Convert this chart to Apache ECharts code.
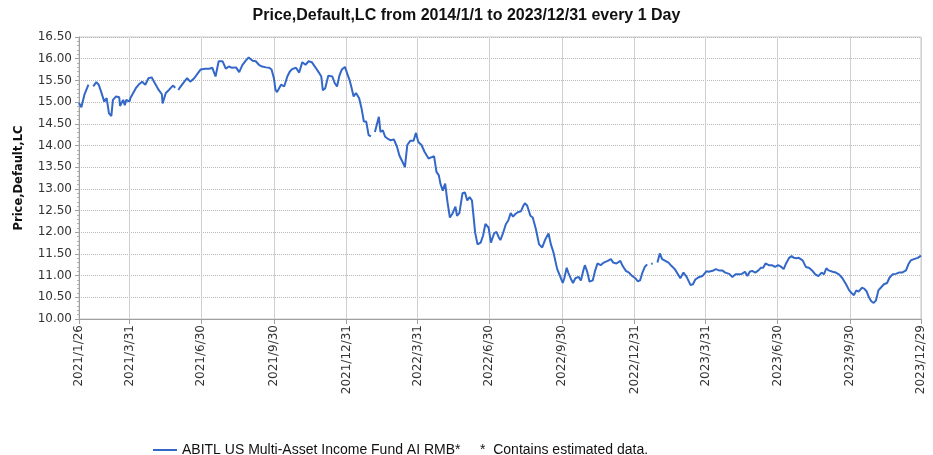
<!DOCTYPE html>
<html>
<head>
<meta charset="utf-8">
<script src="https://cdn.jsdelivr.net/npm/echarts@6/dist/echarts.min.js"></script>
<style>
html,body{margin:0;padding:0;background:#fff;}
#chart{width:933px;height:455px;}
</style>
</head>
<body>
<div id="chart"></div>
<script>
// ---- data ----
const chartTitle = 'Price,Default,LC from 2014/1/1 to 2023/12/31 every 1 Day';
const yAxisName = 'Price,Default,LC';
const seriesName = 'ABITL US Multi-Asset Income Fund AI RMB*';
const noteText = '*  Contains estimated data.';
const tickLabels = ['2021/1/26','2021/3/31','2021/6/30','2021/9/30','2021/12/31','2022/3/31','2022/6/30','2022/9/30','2022/12/31','2023/3/31','2023/6/30','2023/9/30','2023/12/29'];

const dates2021 = ['2021-01-26','2021-01-29','2021-02-02','2021-02-07','2021-02-10','2021-02-13','2021-02-17','2021-02-20','2021-02-23','2021-02-27','2021-03-02','2021-03-05','2021-03-08','2021-03-10','2021-03-14','2021-03-18','2021-03-19','2021-03-23','2021-03-25','2021-03-27','2021-03-31','2021-04-01','2021-04-08','2021-04-12','2021-04-16','2021-04-20','2021-04-24','2021-04-28','2021-05-02','2021-05-07','2021-05-11','2021-05-12','2021-05-16','2021-05-20','2021-05-25','2021-05-28','2021-05-30','2021-06-01','2021-06-03','2021-06-08','2021-06-12','2021-06-16','2021-06-21','2021-06-25','2021-06-29','2021-07-01','2021-07-05','2021-07-10','2021-07-14','2021-07-18','2021-07-22','2021-07-27','2021-07-31','2021-08-04','2021-08-08','2021-08-13','2021-08-17','2021-08-21','2021-08-25','2021-08-29','2021-09-03','2021-09-07','2021-09-11','2021-09-15','2021-09-20','2021-09-24','2021-09-27','2021-09-30','2021-10-02','2021-10-04','2021-10-09','2021-10-13','2021-10-17','2021-10-20','2021-10-23','2021-10-28','2021-11-01','2021-11-05','2021-11-09','2021-11-13','2021-11-17','2021-11-22','2021-11-26','2021-11-29','2021-12-01','2021-12-04','2021-12-08','2021-12-13','2021-12-16','2021-12-19','2021-12-22','2021-12-25','2021-12-29'];
const values2021 = [14.98,14.88,15.18,15.40,null,15.36,15.46,15.40,15.24,15.01,15.09,14.74,14.68,15.05,15.13,15.11,14.91,15.05,14.93,15.05,15.01,15.09,15.32,15.41,15.47,15.40,15.55,15.57,15.44,15.28,15.18,14.97,15.21,15.28,15.38,15.33,null,15.28,15.34,15.46,15.55,15.47,15.55,15.65,15.75,15.72,15.77,15.77,15.79,15.59,15.94,15.94,15.77,15.82,15.79,15.80,15.69,15.85,15.95,16.03,15.95,15.94,15.86,15.82,15.80,15.79,15.75,15.55,15.28,15.23,15.40,15.36,15.59,15.70,15.76,15.79,15.68,15.92,15.86,15.94,15.92,15.79,15.68,15.59,15.27,15.32,15.61,15.59,15.44,15.36,15.61,15.75,15.81];

const dates2022 = ['2022-01-01','2022-01-04','2022-01-06','2022-01-09','2022-01-12','2022-01-16','2022-01-19','2022-01-22','2022-01-25','2022-01-28','2022-01-31','2022-02-03','2022-02-05','2022-02-10','2022-02-12','2022-02-15','2022-02-18','2022-02-21','2022-02-25','2022-03-01','2022-03-05','2022-03-08','2022-03-12','2022-03-15','2022-03-18','2022-03-22','2022-03-26','2022-03-29','2022-04-01','2022-04-05','2022-04-09','2022-04-14','2022-04-18','2022-04-21','2022-04-24','2022-04-27','2022-04-29','2022-05-02','2022-05-05','2022-05-08','2022-05-11','2022-05-14','2022-05-18','2022-05-20','2022-05-23','2022-05-27','2022-05-30','2022-06-02','2022-06-05','2022-06-08','2022-06-12','2022-06-15','2022-06-19','2022-06-22','2022-06-25','2022-06-29','2022-07-02','2022-07-06','2022-07-09','2022-07-12','2022-07-14','2022-07-17','2022-07-21','2022-07-24','2022-07-27','2022-07-30','2022-08-02','2022-08-05','2022-08-09','2022-08-12','2022-08-14','2022-08-17','2022-08-21','2022-08-24','2022-08-28','2022-09-01','2022-09-05','2022-09-09','2022-09-13','2022-09-16','2022-09-19','2022-09-21','2022-09-24','2022-09-28','2022-10-01','2022-10-03','2022-10-06','2022-10-08','2022-10-11','2022-10-14','2022-10-17','2022-10-21','2022-10-24','2022-10-27','2022-10-29','2022-11-01','2022-11-04','2022-11-08','2022-11-11','2022-11-14','2022-11-18','2022-11-22','2022-11-27','2022-12-01','2022-12-04','2022-12-08','2022-12-13','2022-12-16','2022-12-20','2022-12-24','2022-12-28'];
const values2022 = [15.65,15.50,15.36,15.13,15.21,15.09,14.86,14.55,14.55,14.24,14.21,null,14.31,14.66,14.31,14.35,14.20,14.16,14.12,14.14,13.97,13.77,13.62,13.50,14.01,14.11,14.11,14.29,14.08,14.01,13.85,13.70,13.73,13.75,13.39,13.31,13.12,12.96,13.12,12.69,12.34,12.42,12.59,12.38,12.44,12.90,12.92,12.73,12.81,12.73,11.99,11.72,11.76,11.92,12.19,12.11,11.76,11.97,12.01,11.88,11.82,11.96,12.19,12.27,12.44,12.36,12.42,12.46,12.48,12.61,12.67,12.61,12.38,12.34,12.07,11.72,11.65,11.84,11.97,11.72,11.55,11.53,11.15,10.97,10.83,10.94,11.18,11.07,10.94,10.83,10.94,10.97,10.89,11.11,11.24,11.09,10.86,10.89,11.11,11.28,11.24,11.30,11.34,11.38,11.30,11.28,11.34,11.22,11.11,11.07,10.99];

const dates2023 = ['2023-01-01','2023-01-04','2023-01-07','2023-01-10','2023-01-13','2023-01-16','2023-01-18','2023-01-21','2023-01-23','2023-01-25','2023-01-29','2023-02-01','2023-02-04','2023-02-08','2023-02-12','2023-02-16','2023-02-20','2023-02-24','2023-02-27','2023-03-03','2023-03-07','2023-03-12','2023-03-15','2023-03-18','2023-03-23','2023-03-27','2023-04-01','2023-04-04','2023-04-09','2023-04-13','2023-04-17','2023-04-21','2023-04-25','2023-04-30','2023-05-04','2023-05-08','2023-05-12','2023-05-16','2023-05-20','2023-05-23','2023-05-26','2023-05-29','2023-06-02','2023-06-06','2023-06-09','2023-06-12','2023-06-15','2023-06-19','2023-06-23','2023-06-27','2023-07-01','2023-07-05','2023-07-08','2023-07-11','2023-07-15','2023-07-18','2023-07-21','2023-07-24','2023-07-27','2023-08-01','2023-08-05','2023-08-09','2023-08-13','2023-08-17','2023-08-21','2023-08-25','2023-08-28','2023-08-31','2023-09-03','2023-09-08','2023-09-12','2023-09-16','2023-09-20','2023-09-25','2023-09-29','2023-10-02','2023-10-05','2023-10-08','2023-10-11','2023-10-15','2023-10-18','2023-10-21','2023-10-24','2023-10-27','2023-10-30','2023-11-02','2023-11-05','2023-11-08','2023-11-12','2023-11-16','2023-11-19','2023-11-23','2023-11-27','2023-12-01','2023-12-05','2023-12-10','2023-12-13','2023-12-16','2023-12-20','2023-12-25','2023-12-29'];
const values2023 = [10.94,10.87,10.89,11.07,11.20,11.26,null,11.27,11.28,null,11.30,11.51,11.38,11.34,11.30,11.22,11.15,11.03,10.94,11.07,10.97,10.78,10.80,10.91,10.97,10.99,11.10,11.09,11.11,11.15,11.12,11.12,11.07,11.04,10.97,11.03,11.03,11.04,11.09,10.99,11.09,11.11,11.07,11.12,11.18,11.18,11.28,11.24,11.24,11.20,11.24,11.20,11.15,11.28,11.41,11.45,11.41,11.40,11.41,11.35,11.20,11.18,11.12,11.03,10.99,11.07,11.03,11.17,11.12,11.09,11.07,11.03,10.95,10.80,10.66,10.60,10.55,10.66,10.63,10.72,10.70,10.64,10.50,10.41,10.37,10.43,10.66,10.72,10.80,10.83,10.95,11.03,11.04,11.07,11.07,11.12,11.26,11.35,11.38,11.41,11.46];

// ---- build ----
function parseYMD(s, sep){ const p = s.split(sep).map(Number); return new Date(p[0], p[1]-1, p[2]).getTime(); }
const allDates = dates2021.concat(dates2022, dates2023);
const allValues = values2021.concat(values2022, values2023);
const seriesData = allDates.map((d, i) => [parseYMD(d, '-'), allValues[i] === null ? '-' : allValues[i]]);
const tickValues = tickLabels.map(s => parseYMD(s, '/'));
function fmtDate(v){ const d = new Date(v); return d.getFullYear() + '/' + (d.getMonth()+1) + '/' + d.getDate(); }

const sansFont = '"Liberation Sans", Arial, sans-serif';
const chart = echarts.init(document.getElementById('chart'), null, {renderer: 'canvas'});
chart.setOption({
  animation: false,
  backgroundColor: '#fff',
  title: {
    text: chartTitle,
    left: 'center',
    top: 3,
    textStyle: {fontFamily: sansFont, fontWeight: 'bold', fontSize: 16, color: '#111'}
  },
  grid: {left: 79, right: 12, top: 37, bottom: 136, show: true, borderColor: '#c8c8c8', borderWidth: 1},
  legend: {
    show: true,
    left: 148,
    top: 438,
    icon: 'rect',
    itemWidth: 24,
    itemHeight: 2,
    itemGap: 5,
    textStyle: {fontFamily: sansFont, fontSize: 14, color: '#111'},
    data: [seriesName]
  },
  graphic: [{
    type: 'text',
    left: 480,
    top: 443,
    style: {text: noteText, font: '14px "Liberation Sans", Arial, sans-serif', fill: '#111'}
  }],
  xAxis: {
    type: 'value',
    min: tickValues[0],
    max: tickValues[tickValues.length - 1],
    axisLine: {show: true, lineStyle: {color: '#a0a0a0', width: 1}},
    axisTick: {show: true, length: 5, customValues: tickValues, lineStyle: {color: '#a0a0a0'}},
    axisLabel: {
      customValues: tickValues,
      rotate: 90,
      fontFamily: 'DejaVu Sans',
      fontSize: 12,
      color: '#333',
      margin: 6,
      formatter: fmtDate,
      showMinLabel: true,
      showMaxLabel: true
    },
    splitLine: {show: true, lineStyle: {color: '#cfcfcf', width: 1, type: 'solid'}}
  },
  yAxis: {
    type: 'value',
    min: 10,
    max: 16.5,
    interval: 0.5,
    name: yAxisName,
    nameLocation: 'middle',
    nameGap: 54,
    nameRotate: 90,
    nameTextStyle: {fontFamily: 'DejaVu Sans', fontWeight: 'bold', fontSize: 11.5, color: '#111'},
    axisLine: {show: true, lineStyle: {color: '#a0a0a0', width: 1}},
    axisTick: {show: true, length: 4, lineStyle: {color: '#a0a0a0'}},
    minorTick: {show: true, splitNumber: 5, length: 2, lineStyle: {color: '#b0b0b0'}},
    axisLabel: {
      fontFamily: 'DejaVu Sans', fontSize: 12, color: '#333', margin: 7,
      formatter: v => v.toFixed(2)
    },
    splitLine: {show: true, lineStyle: {color: '#b8b8b8', width: 1, type: [1, 1]}}
  },
  series: [{
    name: seriesName,
    type: 'line',
    data: seriesData,
    showSymbol: false,
    connectNulls: false,
    color: '#3368c8',
    lineStyle: {width: 2, color: '#3368c8'},
    emphasis: {disabled: true}
  }]
});
</script>
</body>
</html>
